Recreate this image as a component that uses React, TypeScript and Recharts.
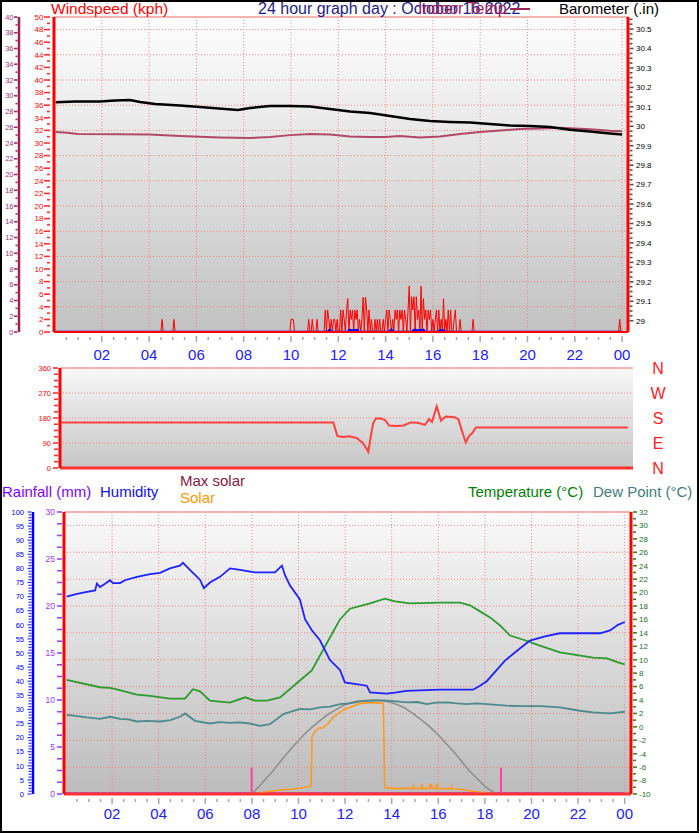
import React from 'react';
import { ComposedChart, Line, XAxis, YAxis, CartesianGrid, ReferenceLine } from 'recharts';

const FONT = '"Liberation Sans", Arial, Helvetica, sans-serif';

// ---------- time axis ----------
const hourLabelValues = [2, 4, 6, 8, 10, 12, 14, 16, 18, 20, 22, 24];
const hourLabels = ['02', '04', '06', '08', '10', '12', '14', '16', '18', '20', '22', '00'];

// ---------- top chart: barometer (inHg) ----------
const baroHours = [0.05, 0.87, 1.92, 2.56, 3.19, 3.62, 4.25, 5.31, 6.15, 7.21, 7.76, 8.27, 9.11, 9.96, 10.81, 11.65, 12.5, 13.34, 14.19, 15.03, 15.88, 16.72, 17.57, 18.41, 19.26, 20.1, 20.95, 21.79, 22.64, 23.49, 24.0];
const baroValues = [30.124, 30.127, 30.127, 30.132, 30.135, 30.125, 30.114, 30.107, 30.099, 30.089, 30.084, 30.094, 30.104, 30.104, 30.102, 30.089, 30.076, 30.068, 30.053, 30.037, 30.027, 30.022, 30.019, 30.012, 30.004, 30.001, 29.996, 29.982, 29.973, 29.963, 29.958];

// ---------- top chart: indoor temperature (°C) ----------
const indoorHours = [0.05, 0.52, 0.99, 2.77, 4.04, 5.31, 7.0, 8.27, 9.11, 9.96, 10.81, 11.65, 12.5, 13.34, 13.97, 14.6, 15.45, 16.3, 17.15, 17.99, 18.84, 19.68, 20.53, 21.37, 22.64, 23.49, 24.0];
const indoorValues = [25.4, 25.3, 25.14, 25.1, 25.08, 24.9, 24.7, 24.63, 24.76, 25.0, 25.14, 25.08, 24.83, 24.76, 24.76, 24.89, 24.7, 24.83, 25.14, 25.4, 25.59, 25.78, 25.84, 25.94, 25.74, 25.56, 25.49];

// ---------- top chart: gust (kph) ----------
const gustBefore: [number, number][] = [[0, 0], [4.5, 0], [4.55, 2], [4.6, 0], [5.0, 0], [5.05, 2], [5.1, 0], [9.9, 0]];
const gustBurstStart = 9.95;
const gustBurstStep = 0.05;
const gustBurst = [
  0,
  2, 2, 2, 0, 0, 0, 0, 0, 0, 0, 0, 0, 0, 0, 0, 2, 0, 0, 2, 0,
  0, 0, 2, 0, 0, 0, 0, 0, 0, 3.5, 0, 3.5, 2, 0, 2, 0, 2, 2, 0, 2,
  0, 0, 3.5, 0, 3.5, 2, 0, 3.5, 5.3, 0, 3.5, 2, 3.5, 0, 3.5, 2, 3.5, 0, 2, 0,
  2, 5.5, 0, 5.5, 3.5, 0, 3.5, 0, 2, 0, 0, 2, 0, 2, 0, 2, 0, 0, 2, 0,
  2, 3.5, 0, 3.5, 2, 0, 2, 0, 3.5, 2, 3.5, 0, 3.5, 2, 3.5, 0, 3.5, 2, 0, 3.5,
  7.3, 0, 5.6, 3.5, 5.6, 0, 5.6, 2, 3.5, 0, 7.3, 0, 5.3, 2, 3.5, 0, 3.5, 2, 3.5, 0,
  2, 0, 2, 3.5, 0, 3.5, 0, 2, 0, 5.3, 0, 2, 0, 3.5, 0, 3.5, 0, 0, 2, 3.5,
  0, 0, 0, 2, 0, 0, 0, 0, 0, 0, 0, 0, 0, 0, 2, 0, 0,
];
const gustAfter: [number, number][] = [[17.85, 0], [23.85, 0], [23.9, 2], [23.95, 0], [24, 0]];

// ---------- top chart: average wind (kph) ----------
const windHours = [0, 11.55, 11.63, 11.7, 12.4, 12.47, 12.6, 12.8, 12.87, 14.15, 14.24, 14.32, 15.1, 15.2, 15.4, 15.6, 15.68, 16.22, 16.3, 16.45, 16.53, 24];
const windValues = [0, 0, 0.3, 0, 0, 0.3, 0.25, 0.3, 0, 0, 0.35, 0, 0, 0.3, 0.25, 0.3, 0, 0, 0.25, 0.25, 0, 0];

// ---------- middle chart: wind direction (deg) ----------
const dirHours = [0, 11.52, 11.69, 11.95, 12.2, 12.5, 12.75, 12.92, 13.0, 13.1, 13.2, 13.32, 13.55, 13.72, 13.88, 14.2, 14.5, 14.78, 15.1, 15.4, 15.57, 15.7, 15.9, 16.08, 16.28, 16.66, 16.82, 16.98, 17.13, 17.27, 17.4, 17.56, 24];
const dirValues = [164, 164, 115, 112, 114, 108, 92, 70, 58, 110, 160, 178, 178, 172, 153, 151, 153, 164, 163, 155, 176, 166, 222, 170, 185, 183, 175, 130, 92, 115, 125, 146, 146];

// ---------- bottom chart ----------
const humHours = [0.05, 0.41, 0.75, 1.27, 1.35, 1.48, 1.7, 1.91, 2.04, 2.34, 2.55, 3.07, 3.63, 4.06, 4.48, 4.91, 5.04, 5.34, 5.77, 5.94, 6.2, 6.63, 7.06, 7.49, 8.13, 8.99, 9.29, 9.42, 9.63, 10.06, 10.28, 10.58, 10.92, 11.35, 11.78, 11.99, 12.93, 13.07, 13.79, 14.21, 14.64, 16.07, 17.49, 17.79, 18.08, 18.51, 18.86, 19.5, 19.93, 20.58, 21.22, 22.94, 23.37, 23.71, 24.0];
const humValues = [70, 70.8, 71.4, 72.2, 74.6, 73.4, 74.6, 75.8, 74.8, 74.8, 75.8, 77, 78, 78.4, 80, 81, 82, 79.5, 76, 73, 75, 77, 80, 79.5, 78.6, 78.6, 81, 77.6, 74, 69, 62, 58, 54.5, 47.5, 44, 39.6, 38.4, 36, 35.6, 36, 36.6, 37, 37, 38.4, 40, 44, 47.3, 51.6, 54.4, 55.9, 57, 57, 58, 60, 61];

const tempHours = [0.05, 1.48, 1.91, 2.2, 3.06, 3.63, 4.48, 5.13, 5.47, 5.77, 6.2, 7.06, 7.71, 8.13, 8.64, 9.21, 10.06, 10.57, 10.92, 11.35, 11.78, 12.21, 13.07, 13.71, 14.14, 14.79, 16.07, 16.93, 17.36, 17.79, 18.22, 18.65, 19.08, 19.72, 20.36, 21.22, 22.64, 23.24, 23.71, 24.0];
const tempValues = [7.0, 5.9, 5.8, 5.6, 4.8, 4.6, 4.2, 4.2, 5.6, 5.3, 3.9, 3.6, 4.4, 3.9, 3.9, 4.4, 6.9, 8.4, 10.6, 13.3, 16.0, 17.6, 18.4, 19.1, 18.7, 18.4, 18.5, 18.5, 18.1, 17.2, 16.3, 15.1, 13.6, 12.9, 12.1, 11.1, 10.3, 10.2, 9.6, 9.3];

const dewHours = [0.05, 0.5, 0.91, 1.48, 1.91, 2.34, 2.7, 3.06, 3.5, 4.06, 4.5, 4.91, 5.13, 5.56, 6.2, 6.6, 7.06, 7.49, 7.9, 8.35, 8.78, 9.35, 10.06, 10.5, 10.92, 11.35, 11.78, 12.2, 12.64, 13.41, 13.8, 14.2, 14.64, 15.1, 15.5, 15.9, 16.36, 16.8, 17.22, 17.65, 18.08, 18.94, 19.6, 20.4, 21.22, 22.08, 22.64, 23.37, 24.0];
const dewValues = [1.8, 1.6, 1.4, 1.2, 1.5, 1.2, 1.1, 0.8, 0.9, 0.8, 1.0, 1.5, 2.0, 0.9, 0.5, 0.7, 0.6, 0.66, 0.5, 0.16, 0.4, 1.9, 2.66, 2.6, 2.9, 3.0, 3.4, 3.5, 3.8, 3.95, 3.9, 3.8, 3.65, 3.7, 3.4, 3.6, 3.65, 3.5, 3.4, 3.5, 3.4, 3.15, 3.1, 3.1, 2.9, 2.4, 2.15, 2.0, 2.25];

const maxSolarHours = [7.99, 8.45, 8.9, 9.4, 9.92, 10.4, 10.92, 11.35, 11.78, 12.0, 12.5, 12.85, 13.2, 13.55, 13.93, 14.3, 14.64, 15.05, 15.5, 15.95, 16.36, 16.8, 17.22, 17.65, 18.08, 18.3, 18.51];
const maxSolarValues = [0, 60, 123, 200, 274, 335, 390, 430, 461, 475, 493, 498, 500, 497, 488, 472, 452, 415, 372, 320, 265, 205, 140, 85, 34, 15, 0];

const solarHours = [0, 7.99, 8.35, 8.8, 9.2, 9.8, 10.2, 10.54, 10.58, 10.7, 10.85, 11.05, 11.12, 11.28, 11.5, 11.92, 12.35, 12.64, 13.21, 13.64, 13.7, 13.85, 14.4, 14.9, 14.93, 14.96, 15.26, 15.29, 15.32, 15.62, 15.65, 15.68, 15.71, 15.74, 15.9, 15.93, 15.96, 16.54, 16.57, 16.6, 17.0, 17.5, 17.9, 18.3, 18.55, 24];
const solarValues = [0, 0, 7, 14, 21, 27, 33, 42, 305, 330, 350, 352, 360, 376, 411, 447, 468, 482, 486, 482, 35, 31, 30, 30, 48, 30, 30, 55, 30, 30, 55, 33, 52, 30, 30, 55, 30, 28, 45, 28, 24, 15, 8, 3, 0, 0];

const rainHours = [0, 24];
const rainValues = [0, 0];

const sunHours = [7.99, 18.69];

// ---------- axis labels ----------
const kphLabels = [0, 2, 4, 6, 8, 10, 12, 14, 16, 18, 20, 22, 24, 26, 28, 30, 32, 34, 36, 38, 40, 42, 44, 46, 48, 50];
const indoorLabels = [0, 2, 4, 6, 8, 10, 12, 14, 16, 18, 20, 22, 24, 26, 28, 30, 32, 34, 36, 38, 40];
const baroLabels = [29, 29.1, 29.2, 29.3, 29.4, 29.5, 29.6, 29.7, 29.8, 29.9, 30, 30.1, 30.2, 30.3, 30.4, 30.5];
const dirLabels = [0, 90, 180, 270, 360];
const compassLabels = ['N', 'E', 'S', 'W', 'N'];
const rainLabels = [0, 5, 10, 15, 20, 25, 30];
const humLabels = [0, 5, 10, 15, 20, 25, 30, 35, 40, 45, 50, 55, 60, 65, 70, 75, 80, 85, 90, 95, 100];
const tempLabels = [-10, -8, -6, -4, -2, 0, 2, 4, 6, 8, 10, 12, 14, 16, 18, 20, 22, 24, 26, 28, 30, 32];

// ---------- helpers ----------
const range = (a: number, b: number, s: number) =>
  Array.from({ length: Math.round((b - a) / s) + 1 }, (_, i) => +(a + i * s).toFixed(4));
const near = (arr: number[], v: number) => arr.findIndex((a) => Math.abs(a - v) < 1e-6);
const series = (hs: number[], vs: number[]) => hs.map((h, i) => ({ h, v: vs[i] }));

const baroData = series(baroHours, baroValues);
const indoorData = series(indoorHours, indoorValues);
const gustData = [
  ...gustBefore.map(([h, v]) => ({ h, v })),
  ...gustBurst.map((v, i) => ({ h: +(gustBurstStart + i * gustBurstStep).toFixed(3), v })),
  ...gustAfter.map(([h, v]) => ({ h, v })),
];
const windData = series(windHours, windValues);
const dirData = series(dirHours, dirValues);
const humData = series(humHours, humValues);
const tempData = series(tempHours, tempValues);
const dewData = series(dewHours, dewValues);
const maxSolarData = series(maxSolarHours, maxSolarValues);
const solarData = series(solarHours, solarValues);
const rainData = series(rainHours, rainValues);

const halfHours = range(0.5, 24, 0.5);

type TickCfg = {
  side: 'left' | 'right';
  labels: number[];
  fmt?: (v: number) => string;
  color: string;
  tickColor: string;
  fontSize: number;
  majorLen: number;
  minorLen: number;
  tickOffset: number;
  gap: number;
  tickWidth?: number;
};

const makeYTick = (c: TickCfg) => (props: any) => {
  const { x, y, payload } = props;
  const v = Number(payload.value);
  const major = near(c.labels, v) >= 0;
  const s = c.side === 'left' ? -1 : 1;
  const len = major ? c.majorLen : c.minorLen;
  const x0 = x + s * c.tickOffset;
  return (
    <g>
      <line x1={x0} x2={x0 + s * len} y1={y} y2={y} stroke={c.tickColor} strokeWidth={c.tickWidth ?? 1.6} />
      {major && (
        <text
          x={x + s * c.gap}
          y={y}
          dy={c.fontSize * 0.36}
          textAnchor={c.side === 'left' ? 'end' : 'start'}
          fontSize={c.fontSize}
          fill={c.color}
          fontFamily={FONT}
        >
          {c.fmt ? c.fmt(v) : String(v)}
        </text>
      )}
    </g>
  );
};

const makeXTick = (labelDy: number) => (props: any) => {
  const { x, y, payload } = props;
  const v = Number(payload.value);
  const idx = near(hourLabelValues, v);
  const major = idx >= 0;
  return (
    <g>
      <line x1={x} x2={x} y1={y + (major ? 4 : 5)} y2={y + (major ? 10 : 8)} stroke="#a8a8a8" strokeWidth={1.5} />
      {major && (
        <text x={x} y={y + labelDy} textAnchor="middle" fontSize={15} fill="#2020ff" fontFamily={FONT}>
          {hourLabels[idx]}
        </text>
      )}
    </g>
  );
};

const CompassTick = (props: any) => {
  const { x, y, payload } = props;
  const i = near(dirLabels, Number(payload.value));
  return (
    <text x={x + 25} y={y} dy={6} textAnchor="middle" fontSize={16} fill="#ff2020" fontFamily={FONT}>
      {compassLabels[i]}
    </text>
  );
};

const GRID = '#ee8888';
const topDomain: [number, number] = [-0.021, 24.25];
const midDomain: [number, number] = [-0.064, 24.216];
const botDomain: [number, number] = [-0.064, 24.27];

const lineCommon = { dot: false, activeDot: false, isAnimationActive: false, dataKey: 'v', type: 'linear' as const };

function TopChart() {
  return (
    <ComposedChart width={699} height={370} margin={{ top: 17, right: 0, bottom: 0, left: 0 }}>
      <defs>
        <linearGradient id="bgTop" x1="0" y1="0" x2="0" y2="1">
          <stop offset="0" stopColor="#fefefe" />
          <stop offset="1" stopColor="#c2c2c2" />
        </linearGradient>
      </defs>
      <XAxis
        dataKey="h"
        type="number"
        domain={topDomain}
        allowDataOverflow
        ticks={halfHours}
        interval={0}
        tickSize={0}
        tickMargin={0}
        height={38}
        tickLine={false}
        tick={makeXTick(27.5)}
        axisLine={{ stroke: '#ff0000', strokeWidth: 2 }}
      />
      <XAxis xAxisId="zgrid" dataKey="h" type="number" domain={topDomain} allowDataOverflow ticks={hourLabelValues} hide height={0} />
      <YAxis
        yAxisId="a_kph"
        orientation="left"
        width={35}
        type="number"
        domain={[0, 50]}
        allowDataOverflow
        ticks={range(0, 50, 1)}
        interval={0}
        tickSize={0}
        tickMargin={0}
        tickLine={false}
        axisLine={{ stroke: '#ff0000', strokeWidth: 3 }}
        tick={makeYTick({ side: 'left', labels: kphLabels, color: '#ff0000', tickColor: '#ff3030', fontSize: 8, majorLen: 6, minorLen: 3, tickOffset: 4, gap: 10.5 })}
      />
      <YAxis
        yAxisId="b_indoor"
        orientation="left"
        width={19}
        type="number"
        domain={[0, 40]}
        allowDataOverflow
        ticks={range(0, 40, 1)}
        interval={0}
        tickSize={0}
        tickMargin={0}
        tickLine={false}
        axisLine={{ stroke: '#a0204a', strokeWidth: 2.5 }}
        tick={makeYTick({ side: 'left', labels: indoorLabels, color: '#a03070', tickColor: '#a0305a', fontSize: 7.5, majorLen: 3.5, minorLen: 2, tickOffset: 1.5, gap: 5.5 })}
      />
      <YAxis
        yAxisId="baro"
        orientation="right"
        width={71}
        type="number"
        domain={[28.942, 30.562]}
        allowDataOverflow
        ticks={range(29, 30.55, 0.025)}
        interval={0}
        tickSize={0}
        tickMargin={0}
        tickLine={false}
        axisLine={{ stroke: '#ff0000', strokeWidth: 3 }}
        tick={makeYTick({ side: 'right', labels: baroLabels, fmt: (v) => String(+v.toFixed(2)), color: '#000000', tickColor: '#555555', fontSize: 8, majorLen: 4, minorLen: 3, tickOffset: 1.5, gap: 8 })}
      />
      <YAxis yAxisId="zgrid" orientation="right" hide width={0} type="number" domain={[0, 50]} allowDataOverflow ticks={range(2, 48, 2)} />
      <CartesianGrid xAxisId="zgrid" yAxisId="zgrid" stroke={GRID} strokeDasharray="1 2" fill="url(#bgTop)" fillOpacity={1} />
      <ReferenceLine yAxisId="a_kph" y={50} stroke="#f4a0a0" strokeWidth={1.5} />
      <Line {...lineCommon} data={gustData} yAxisId="a_kph" stroke="#ff0000" strokeWidth={1} />
      <Line {...lineCommon} data={windData} yAxisId="a_kph" stroke="#0000ff" strokeWidth={2.5} />
      <Line {...lineCommon} data={indoorData} yAxisId="b_indoor" stroke="#b04868" strokeWidth={2} />
      <Line {...lineCommon} data={baroData} yAxisId="baro" stroke="#000000" strokeWidth={2.5} />
    </ComposedChart>
  );
}

function MidChart() {
  return (
    <ComposedChart width={699} height={128} margin={{ top: 13, right: 0, bottom: 14, left: 0 }}>
      <defs>
        <linearGradient id="bgMid" x1="0" y1="0" x2="0" y2="1">
          <stop offset="0" stopColor="#f8f8f8" />
          <stop offset="1" stopColor="#c6c6c6" />
        </linearGradient>
      </defs>
      <XAxis
        dataKey="h"
        type="number"
        domain={midDomain}
        allowDataOverflow
        ticks={hourLabelValues}
        height={1}
        tick={false}
        tickLine={false}
        axisLine={{ stroke: '#ff3030', strokeWidth: 3 }}
      />
      <YAxis
        yAxisId="a_dir"
        orientation="left"
        width={60}
        type="number"
        domain={[0, 360]}
        allowDataOverflow
        ticks={range(0, 360, 22.5)}
        interval={0}
        tickSize={0}
        tickMargin={0}
        tickLine={false}
        axisLine={{ stroke: '#ff0000', strokeWidth: 3 }}
        tick={makeYTick({ side: 'left', labels: dirLabels, color: '#ff0000', tickColor: '#ff3030', fontSize: 7.5, majorLen: 5, minorLen: 4, tickOffset: 2, gap: 9 })}
      />
      <YAxis
        yAxisId="compass"
        orientation="right"
        width={66}
        type="number"
        domain={[0, 360]}
        allowDataOverflow
        ticks={dirLabels}
        interval={0}
        tickSize={0}
        tickMargin={0}
        tickLine={false}
        axisLine={false}
        tick={CompassTick}
      />
      <YAxis yAxisId="zgrid" orientation="right" hide width={0} type="number" domain={[0, 360]} allowDataOverflow ticks={[90, 180, 270]} />
      <CartesianGrid yAxisId="zgrid" vertical={false} stroke={GRID} strokeDasharray="1 2" fill="url(#bgMid)" fillOpacity={1} />
      <ReferenceLine yAxisId="a_dir" y={360} stroke="#f4a0a0" strokeWidth={1.5} />
      <Line {...lineCommon} data={dirData} yAxisId="a_dir" stroke="#ff4040" strokeWidth={2} />
    </ComposedChart>
  );
}

function BottomChart() {
  return (
    <ComposedChart width={699} height={363} margin={{ top: 42, right: 0, bottom: 0, left: 0 }}>
      <defs>
        <linearGradient id="bgBot" x1="0" y1="0" x2="0" y2="1">
          <stop offset="0" stopColor="#fafafa" />
          <stop offset="1" stopColor="#bcbcbc" />
        </linearGradient>
      </defs>
      <XAxis
        dataKey="h"
        type="number"
        domain={botDomain}
        allowDataOverflow
        ticks={halfHours}
        interval={0}
        tickSize={0}
        tickMargin={0}
        height={39}
        tickLine={false}
        tick={makeXTick(25)}
        axisLine={{ stroke: '#ff3030', strokeWidth: 3 }}
      />
      <XAxis xAxisId="zgrid" dataKey="h" type="number" domain={botDomain} allowDataOverflow ticks={hourLabelValues} hide height={0} />
      <YAxis
        yAxisId="a_rain"
        orientation="left"
        width={31}
        type="number"
        domain={[0, 30]}
        allowDataOverflow
        ticks={range(0, 30, 1.25)}
        interval={0}
        tickSize={0}
        tickMargin={0}
        tickLine={false}
        axisLine={{ stroke: '#ff0000', strokeWidth: 3 }}
        tick={makeYTick({ side: 'left', labels: rainLabels, color: '#9933ff', tickColor: '#a040ff', fontSize: 8.5, majorLen: 5, minorLen: 5, tickOffset: 2, gap: 9 })}
      />
      <YAxis
        yAxisId="b_hum"
        orientation="left"
        width={33}
        type="number"
        domain={[0, 100]}
        allowDataOverflow
        ticks={range(0, 100, 1)}
        interval={0}
        tickSize={0}
        tickMargin={0}
        tickLine={false}
        axisLine={{ stroke: '#0000ff', strokeWidth: 2.5 }}
        tick={makeYTick({ side: 'left', labels: humLabels, color: '#0000ff', tickColor: '#3030ff', fontSize: 7.5, majorLen: 4, minorLen: 3, tickOffset: 1.5, gap: 9, tickWidth: 1.2 })}
      />
      <YAxis
        yAxisId="temp"
        orientation="right"
        width={68}
        type="number"
        domain={[-10, 32]}
        allowDataOverflow
        ticks={range(-10, 32, 1)}
        interval={0}
        tickSize={0}
        tickMargin={0}
        tickLine={false}
        axisLine={{ stroke: '#ff0000', strokeWidth: 3 }}
        tick={makeYTick({ side: 'right', labels: tempLabels, color: '#1a701a', tickColor: '#2a8a2a', fontSize: 8, majorLen: 4, minorLen: 3, tickOffset: 2, gap: 8 })}
      />
      <YAxis yAxisId="zsolar" orientation="right" hide width={0} type="number" domain={[0, 1500]} allowDataOverflow />
      <YAxis yAxisId="zgrid" orientation="right" hide width={0} type="number" domain={[-10, 32]} allowDataOverflow ticks={range(-8, 30, 2)} />
      <CartesianGrid xAxisId="zgrid" yAxisId="zgrid" stroke={GRID} strokeDasharray="1 2" fill="url(#bgBot)" fillOpacity={1} />
      <ReferenceLine yAxisId="temp" y={32} stroke="#f4a0a0" strokeWidth={1.5} />
      <Line {...lineCommon} data={rainData} yAxisId="a_rain" stroke="#8a00ff" strokeWidth={3} />
      <Line {...lineCommon} data={maxSolarData} yAxisId="zsolar" type="monotone" stroke="#8c8c8c" strokeWidth={1.5} />
      <Line {...lineCommon} data={solarData} yAxisId="zsolar" stroke="#ff9a20" strokeWidth={1.6} />
      {sunHours.map((h) => (
        <ReferenceLine
          key={h}
          yAxisId="a_rain"
          segment={[{ x: h, y: 0 }, { x: h, y: 2.8 }]}
          stroke="#ff40a0"
          strokeWidth={2}
        />
      ))}
      <Line {...lineCommon} data={dewData} yAxisId="temp" stroke="#4f8a8a" strokeWidth={1.8} />
      <Line {...lineCommon} data={tempData} yAxisId="temp" stroke="#2e9a2e" strokeWidth={1.8} />
      <Line {...lineCommon} data={humData} yAxisId="b_hum" stroke="#2020ff" strokeWidth={1.8} />
    </ComposedChart>
  );
}

export default function App() {
  return (
    <div style={{ position: 'absolute', left: 0, top: 0, width: 699, height: 833, background: '#ffffff', overflow: 'hidden', fontFamily: FONT }}>
      <div style={{ position: 'absolute', left: 0, top: 0 }}>
        <TopChart />
      </div>
      <div style={{ position: 'absolute', left: 0, top: 355 }}>
        <MidChart />
      </div>
      <div style={{ position: 'absolute', left: 0, top: 470 }}>
        <BottomChart />
      </div>
      <svg style={{ position: 'absolute', left: 0, top: 0, pointerEvents: 'none' }} width={699} height={833} fontFamily={FONT}>
        <text x={51} y={14} fontSize={15.5} fill="#ff0000">Windspeed (kph)</text>
        <text x={258} y={14} fontSize={16} fill="#1c1c8a">24 hour graph day : October 16 2022</text>
        <text x={418} y={14} fontSize={16} fill="#a0205a">Indoor Temp</text>
        <line x1={510} x2={530} y1={9} y2={9} stroke="#a0205a" strokeWidth={2} />
        <text x={559} y={14} fontSize={15} fill="#000000">Barometer (.in)</text>
        <text x={2} y={497} fontSize={15} fill="#8000ff">Rainfall (mm)</text>
        <text x={100} y={497} fontSize={15} fill="#1010ee">Humidity</text>
        <text x={180} y={486} fontSize={15} fill="#8a1a40">Max solar</text>
        <text x={180} y={503} fontSize={15} fill="#ff9900">Solar</text>
        <text x={468} y={497} fontSize={15} fill="#008000">Temperature (°C)</text>
        <text x={593} y={497} fontSize={15} fill="#408080">Dew Point (°C)</text>
        <rect x={1} y={1} width={697} height={831} fill="none" stroke="#000000" strokeWidth={2} />
      </svg>
    </div>
  );
}
